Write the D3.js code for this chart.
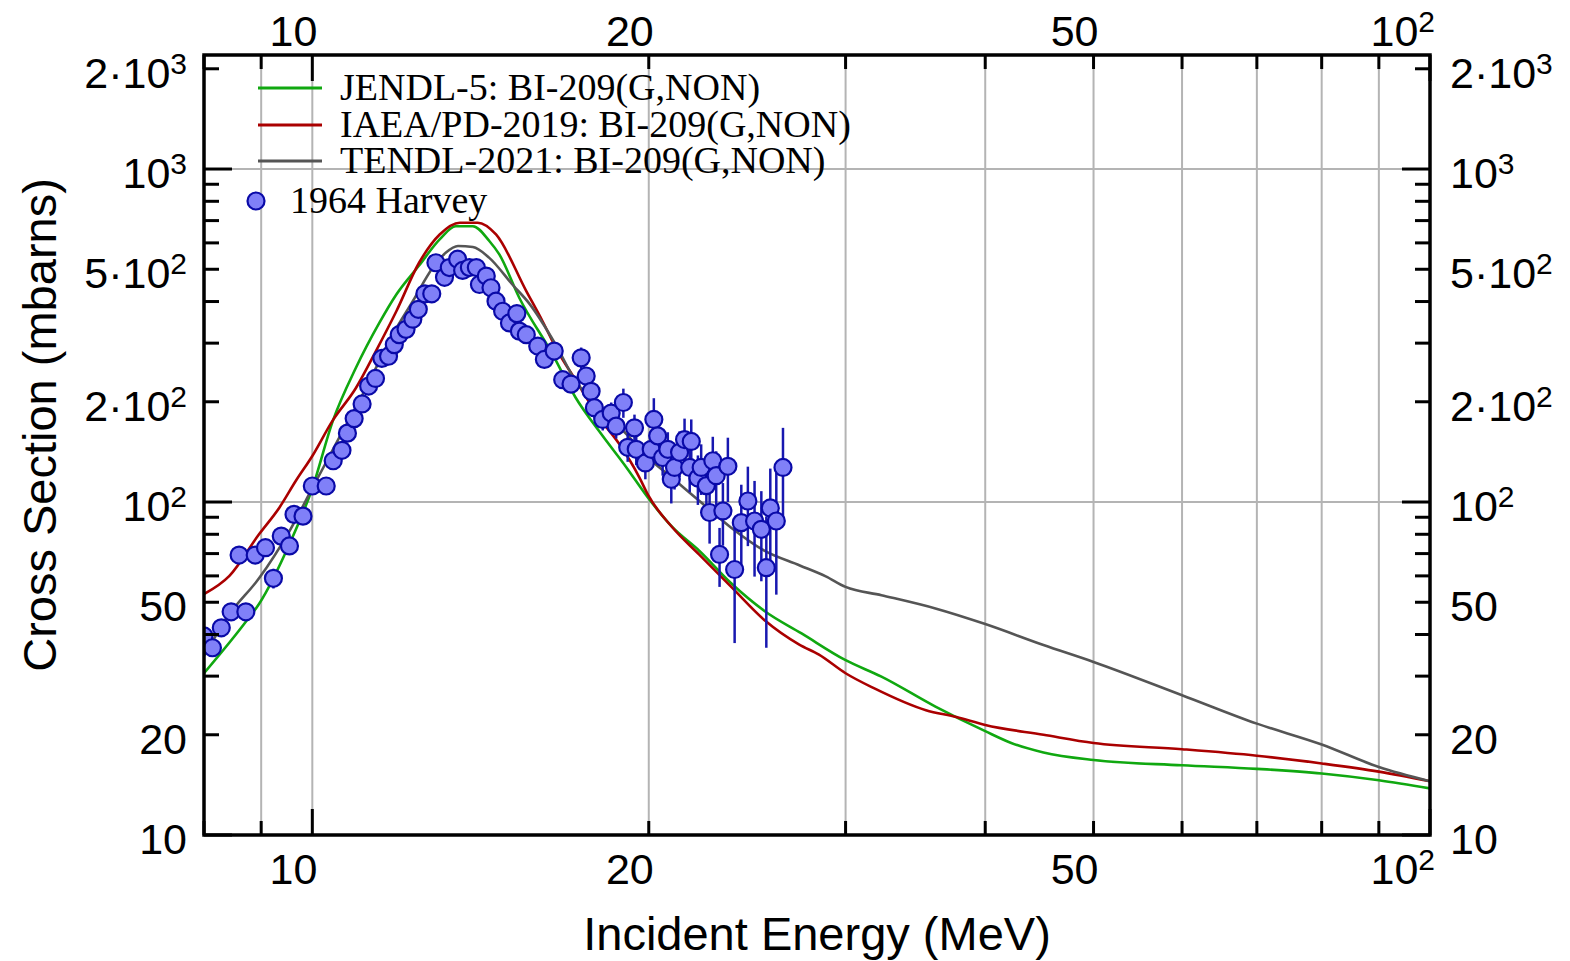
<!DOCTYPE html>
<html>
<head>
<meta charset="utf-8">
<script src="https://d3js.org/d3.v7.min.js"></script>
<style>
  body { margin: 0; background: #fff; }
  svg { display: block; }
</style>
</head>
<body>
<svg id="chart" width="1570" height="961"></svg>
<script>
// ---- data ----
const jendlE = [8.0, 8.73, 8.96, 9.54, 10.0, 10.43, 10.94, 11.48, 11.89, 12.46, 13.0, 13.44, 13.92, 14.4, 14.7, 15.32, 16.4, 17.2, 18.06, 19.1, 19.97, 21.0, 22.2, 23.7, 25.4, 27.4, 30, 32.3, 36.1, 40, 42.2, 45.1, 50, 60, 70, 80, 90, 100];
const jendlXS = [30.6, 43.9, 49.4, 74.8, 110, 175, 253, 345, 420, 513, 615, 673, 673, 608, 554, 410, 278, 206, 163, 127, 103, 84, 71.3, 57, 47, 40.3, 33.5, 29.9, 24.3, 20.5, 18.9, 17.7, 16.8, 16.2, 15.8, 15.3, 14.6, 13.8];

const iaeaE = [8.0, 8.43, 8.96, 9.34, 9.67, 10.0, 10.42, 10.94, 11.40, 11.89, 12.46, 13.0, 13.55, 14.06, 14.6, 15.54, 16.07, 16.52, 17.22, 18.06, 18.83, 19.63, 19.97, 21.01, 22.18, 23.74, 25.44, 27.27, 28.4, 30, 31.8, 35.4, 37.7, 40, 45.1, 50, 60, 70, 80, 90, 100];
const iaeaXS = [52.9, 60, 80, 96, 116, 137.5, 175, 220, 284, 374, 523, 636, 690, 690, 636, 430, 349, 290, 231, 179, 149, 118, 105, 83.7, 69.6, 55.3, 43.9, 37.3, 34.8, 30.6, 27.6, 23.7, 22.6, 21.4, 20.0, 18.9, 18.1, 17.3, 16.4, 15.5, 14.5];

const tendlE = [8.0, 8.43, 8.96, 9.54, 10.0, 10.57, 11.17, 11.8, 12.3, 12.82, 13.17, 13.5, 13.92, 14.4, 15.1, 15.65, 16.5, 17.2, 18.06, 19.1, 19.97, 21.0, 22.2, 23.7, 25.4, 27.3, 28.8, 30, 32.3, 36.1, 40, 45.1, 50, 60, 70, 80, 90, 100];
const tendlXS = [34.5, 46, 59, 81.8, 110, 156, 220, 318, 401, 506, 561, 587, 583, 541, 450, 393, 298, 231, 192, 160, 136, 118, 100.7, 83.7, 71.3, 64.5, 59.8, 55.6, 52.5, 47.9, 43.0, 37.2, 33.1, 26.3, 21.6, 18.7, 16.0, 14.5];

// 1964 Harvey
const harveyE = [8.00, 8.14, 8.29, 8.46, 8.72, 8.60, 8.89, 9.08, 9.23, 9.38, 9.54, 9.63, 9.81, 10.0, 10.29,
  10.44, 10.63, 10.75, 10.90, 11.08, 11.23, 11.39, 11.54, 11.70, 11.84, 11.96, 12.13, 12.30, 12.44, 12.61, 12.79,
  12.90, 13.13, 13.26, 13.49, 13.63, 13.82, 14.02, 14.11, 14.31, 14.45, 14.60, 14.80, 15.01, 15.24, 15.32, 15.54,
  15.91, 16.13, 16.46, 16.75, 17.04, 17.40, 17.58, 17.76, 17.88, 18.19, 18.51, 18.70, 18.98, 19.15, 19.42, 19.49,
  19.86, 20.10, 20.21, 20.37, 20.58, 20.80, 20.95, 21.09, 21.31, 21.53, 21.83, 21.76, 22.13, 22.28, 22.52, 22.67,
  22.82, 22.98, 23.30, 23.54, 23.14, 23.87, 24.20, 24.53, 24.87, 25.22, 25.48, 25.69, 26.01, 26.37];
const harveyXS = [39.6, 36.5, 41.9, 46.8, 46.8, 69.3, 69.3, 72.9, 59.0, 79.0, 73.8, 91.8, 90.7, 111.7, 111.7,
  133, 143, 161, 178, 197, 223, 235, 270, 274, 297, 318, 330, 354, 379, 422, 422,
  523, 473, 506, 536, 496, 506, 506, 450, 477, 440, 401, 374, 345, 368, 326, 318,
  294, 268, 284, 233, 226, 271, 239, 215, 192, 177, 185, 169, 199, 146, 167, 144,
  131, 144, 177, 158, 136, 144, 117, 127, 141, 154, 152, 127, 118, 127, 112, 93,
  133, 120, 94, 128, 69.6, 62.7, 86.7, 100.7, 87.7, 82.8, 63.5, 96, 87.7, 127];
const harveyErr = [2, 2, 2, 2, 2, 4, 3, 3, 4, 3, 3, 4, 4, 5, 5,
  6, 6, 7, 8, 8, 9, 10, 11, 11, 12, 13, 13, 14, 15, 17, 17,
  21, 19, 20, 21, 20, 20, 20, 18, 19, 18, 16, 15, 14, 15, 13, 13,
  12, 12, 13, 12, 12, 20, 14, 14, 14, 13, 14, 14, 20, 14, 16, 15,
  14, 16, 28, 18, 16, 18, 18, 18, 22, 24, 25, 20, 20, 22, 20, 18,
  24, 22, 20, 28, 14, 25, 26, 27, 28, 25, 27, 30, 35, 40];

const xLabelVals = [10, 20, 50, 100];
const xLabels = [["10", ""], ["20", ""], ["50", ""], ["10", "2"]];
const yLabelVals = [10, 20, 50, 100, 200, 500, 1000, 2000];
const yLabels = [["10", ""], ["20", ""], ["50", ""], ["10", "2"], ["2·10", "2"], ["5·10", "2"], ["10", "3"], ["2·10", "3"]];

const legendNames = ["JENDL-5: BI-209(G,NON)", "IAEA/PD-2019: BI-209(G,NON)", "TENDL-2021: BI-209(G,NON)"];
const colors = ["#10a810", "#aa0000", "#555555"];

// ---- layout ----
const pLeft = 204, pRight = 1430, pTop = 55, pBottom = 835;
const sans = "'Liberation Sans', Arial, Helvetica, sans-serif";
const serif = "'Liberation Serif', 'Times New Roman', serif";

const svg = d3.select("#chart");
const x = d3.scaleLog().domain([8, 100]).range([pLeft, pRight]);
const y = d3.scaleLog().domain([10, 2200]).range([pBottom, pTop]);

svg.append("defs").append("clipPath").attr("id", "plot")
  .append("rect").attr("x", pLeft).attr("y", pTop).attr("width", pRight - pLeft).attr("height", pBottom - pTop);

// Grid
const grid = svg.append("g").attr("stroke", "#b4b4b4").attr("stroke-width", 2);
x.ticks().filter(v => v > 8 && v < 100).forEach(v => {
  grid.append("line").attr("x1", x(v)).attr("x2", x(v)).attr("y1", pTop).attr("y2", pBottom);
});
[100, 1000].forEach(v => {
  grid.append("line").attr("x1", pLeft).attr("x2", pRight).attr("y1", y(v)).attr("y2", y(v));
});

// Curves
const line = d3.line().x(d => x(d[0])).y(d => y(d[1])).curve(d3.curveMonotoneX);
const curves = [[jendlE, jendlXS], [iaeaE, iaeaXS], [tendlE, tendlXS]];
const plot = svg.append("g").attr("clip-path", "url(#plot)");
curves.forEach((c, i) => {
  plot.append("path")
    .datum(c[0].map((e, k) => [e, c[1][k]]))
    .attr("fill", "none")
    .attr("stroke", colors[i])
    .attr("stroke-width", 2.6)
    .attr("d", line);
});

// Experimental points
const pts = harveyE.map((e, k) => ({ e: e, s: harveyXS[k], err: harveyErr[k] }));
plot.append("g").selectAll("line").data(pts).enter().append("line")
  .attr("x1", d => x(d.e)).attr("x2", d => x(d.e))
  .attr("y1", d => y(d.s + d.err)).attr("y2", d => y(Math.max(d.s - d.err, 10)))
  .attr("stroke", "#1818b0").attr("stroke-width", 2.5);
plot.append("g").selectAll("circle").data(pts).enter().append("circle")
  .attr("cx", d => x(d.e)).attr("cy", d => y(d.s)).attr("r", 8.5)
  .attr("fill", "#8080f8").attr("stroke", "#0a0aa8").attr("stroke-width", 2.2);

// Frame and ticks
const isDecade = v => Math.abs(Math.log10(v) - Math.round(Math.log10(v))) < 1e-6;
const axes = svg.append("g").attr("stroke", "#000");
x.ticks().forEach(v => {
  const len = isDecade(v) ? 26 : 14;
  axes.append("line").attr("x1", x(v)).attr("x2", x(v)).attr("y1", pTop).attr("y2", pTop + len).attr("stroke-width", 3);
  axes.append("line").attr("x1", x(v)).attr("x2", x(v)).attr("y1", pBottom).attr("y2", pBottom - len).attr("stroke-width", 3);
});
y.ticks().forEach(v => {
  const len = isDecade(v) ? 28 : 15;
  axes.append("line").attr("x1", pLeft).attr("x2", pLeft + len).attr("y1", y(v)).attr("y2", y(v)).attr("stroke-width", 3);
  axes.append("line").attr("x1", pRight).attr("x2", pRight - len).attr("y1", y(v)).attr("y2", y(v)).attr("stroke-width", 3);
});
axes.append("rect").attr("x", pLeft).attr("y", pTop).attr("width", pRight - pLeft).attr("height", pBottom - pTop)
  .attr("fill", "none").attr("stroke-width", 3.5);

// Tick labels
function label(px, py, anchor, parts) {
  const t = svg.append("text").attr("x", px).attr("y", py).attr("text-anchor", anchor)
    .attr("font-family", sans).attr("font-size", 43).attr("fill", "#000");
  t.append("tspan").text(parts[0]);
  if (parts[1]) t.append("tspan").attr("dy", -14).attr("font-size", 30).text(parts[1]);
}
xLabelVals.forEach((v, i) => {
  label(x(v) + 5, 884, "end", xLabels[i]);
  label(x(v) + 5, 46, "end", xLabels[i]);
});
yLabelVals.forEach((v, i) => {
  label(187, y(v) + 19, "end", yLabels[i]);
  label(1450, y(v) + 19, "start", yLabels[i]);
});

// Axis titles
svg.append("text").attr("x", (pLeft + pRight) / 2).attr("y", 950).attr("text-anchor", "middle")
  .attr("font-family", sans).attr("font-size", 47).text("Incident Energy (MeV)");
svg.append("text").attr("transform", "translate(56,425) rotate(-90)").attr("text-anchor", "middle")
  .attr("font-family", sans).attr("font-size", 47).text("Cross Section (mbarns)");

// Legend
const legendY = [88, 125, 161];
legendNames.forEach((name, i) => {
  svg.append("line").attr("x1", 258).attr("x2", 322).attr("y1", legendY[i]).attr("y2", legendY[i])
    .attr("stroke", colors[i]).attr("stroke-width", 3);
  svg.append("text").attr("x", 340).attr("y", legendY[i] + 12)
    .attr("font-family", serif).attr("font-size", 38).text(name);
});
svg.append("circle").attr("cx", 256).attr("cy", 201).attr("r", 8.5)
  .attr("fill", "#8080f8").attr("stroke", "#0a0aa8").attr("stroke-width", 2.2);
svg.append("text").attr("x", 290).attr("y", 213)
  .attr("font-family", serif).attr("font-size", 38).text("1964 Harvey");
</script>
</body>
</html>
